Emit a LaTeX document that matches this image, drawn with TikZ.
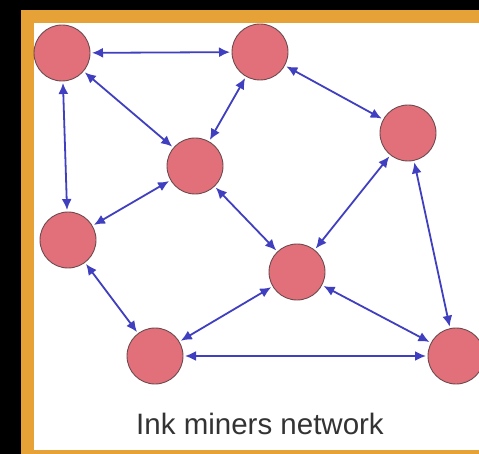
\documentclass[tikz,border=0pt]{standalone}
\usepackage{fontspec}
\setmainfont{Liberation Sans}
\usetikzlibrary{arrows.meta}
\definecolor{nodefill}{HTML}{E1707B}
\definecolor{nodeedge}{HTML}{6E4A4E}
\definecolor{edgeblue}{HTML}{3F3FC0}
\definecolor{frameorange}{HTML}{E6A236}
\definecolor{captiongray}{HTML}{333333}
\tikzset{
  miner/.style={circle, draw=nodeedge, line width=0.9pt, fill=nodefill, minimum size=56pt, inner sep=0pt, outer sep=2pt},
  link/.style={draw=edgeblue, line width=1.8pt, {Latex[length=11pt,width=10pt]}-{Latex[length=11pt,width=10pt]}},
}
\begin{document}
\begin{tikzpicture}[x=1pt,y=-1pt]
\useasboundingbox (0,0) rectangle (479,454);
\fill[black] (0,0) rectangle (479,454);
\fill[frameorange] (21,10) rectangle (479,454);
\fill[white] (34,23) rectangle (479,450);
\begin{scope}
\clip (0,0) rectangle (479,454);
\node[miner] (A) at (62,53) {};
\node[miner] (B) at (260,52) {};
\node[miner] (C) at (195,166) {};
\node[miner] (D) at (408,133) {};
\node[miner] (E) at (68,240) {};
\node[miner] (F) at (297,272) {};
\node[miner] (G) at (155,356) {};
\node[miner] (H) at (456,356) {};
\path[link] (A) -- (B);
\path[link] (A) -- (C);
\path[link] (A) -- (E);
\path[link] (B) -- (C);
\path[link] (B) -- (D);
\path[link] (C) -- (E);
\path[link] (C) -- (F);
\path[link] (D) -- (F);
\path[link] (D) -- (H);
\path[link] (E) -- (G);
\path[link] (G) -- (F);
\path[link] (G) -- (H);
\path[link] (F) -- (H);
\end{scope}
\node[anchor=base, text=captiongray, font=\fontsize{29.5}{32}\selectfont, inner sep=0pt] (cap) at (260,434) {Ink miners network};
\end{tikzpicture}
\end{document}
